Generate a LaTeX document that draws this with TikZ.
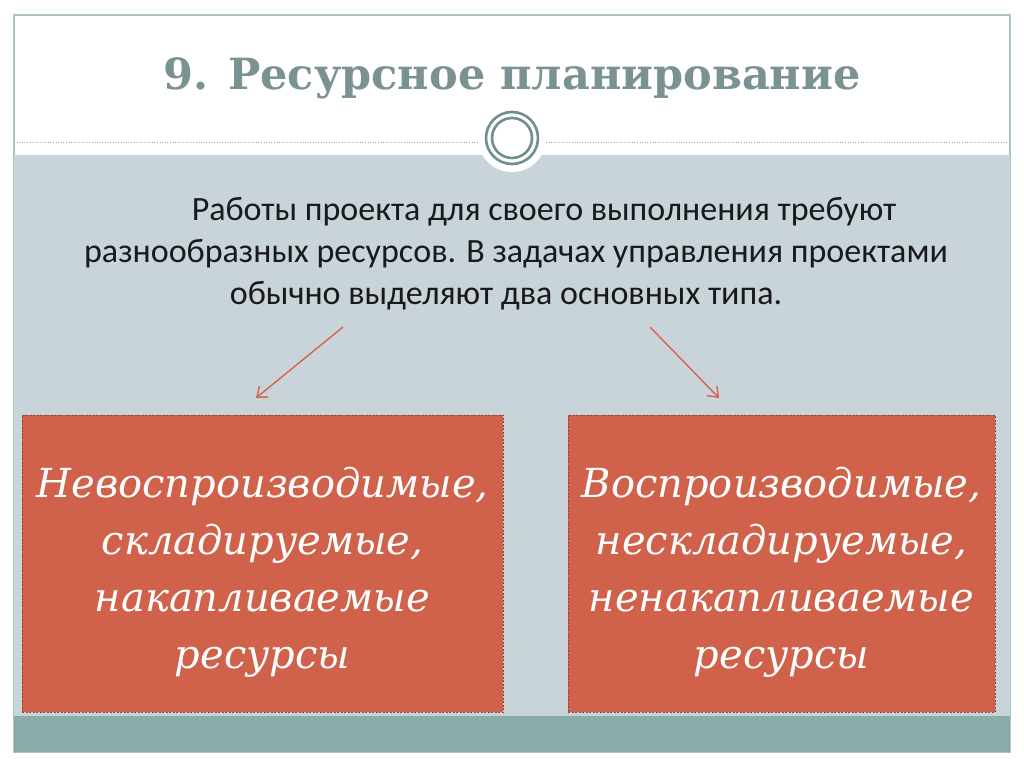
\documentclass[tikz,border=0pt]{standalone}
\usepackage{fontspec}
\setmainfont{Liberation Serif}
\newfontfamily\bodyfont{Carlito}
\newfontfamily\titlefont{DejaVu Serif}
\newfontfamily\boxfont{DejaVu Serif}
\usetikzlibrary{arrows.meta}
\definecolor{frame}{HTML}{AFC2C6}
\definecolor{band}{HTML}{C9D4DA}
\definecolor{teal}{HTML}{89ABAA}
\definecolor{titlec}{HTML}{7A9392}
\definecolor{ring}{HTML}{6F8F8F}
\definecolor{boxfill}{HTML}{D0614A}
\definecolor{boxline}{HTML}{9A3F30}
\definecolor{arrowc}{HTML}{D8614D}
\tikzset{
  resbox/.style={draw=boxline, dash pattern=on 2pt off 1.5pt, line width=1pt, fill=boxfill, inner sep=0pt},
  boxtext/.style={text=white, align=center, font=\boxfont\itshape\fontsize{40}{57}\selectfont},
  arr/.style={draw=arrowc, line width=1.4pt, -{Straight Barb[length=9pt,width=14pt]}}
}
\begin{document}
\begin{tikzpicture}[x=1pt,y=-1pt]
\useasboundingbox (0,0) rectangle (1024,767);
\fill[white] (0,0) rectangle (1024,767);
% frame
\draw[frame, line width=1.2pt] (14,15) rectangle (1010,752);
% gray band
\fill[band] (14,155) rectangle (1010,716);
% teal band
\fill[teal] (14,716) rectangle (1010,752);
% dotted line
\draw[gray!70, dotted, line width=0.6pt] (14,142) -- (478,142);
\draw[gray!70, dotted, line width=0.6pt] (546,142) -- (1010,142);
% circle ornament
\fill[white] (512,138) circle (34);
\draw[ring, line width=2.6pt] (512,138) circle (26);
\draw[ring, line width=2.6pt] (512,138) circle (20);
% title
\node[text=titlec, font=\titlefont\bfseries\fontsize{43}{50}\selectfont] (title) at (512,78) {9. Ресурсное планирование};
% body text
\node[font=\bodyfont\fontsize{34}{42}\selectfont, align=center, text=black!90] (intro) at (516,254)
 {\hspace*{56pt}Работы проекта для своего выполнения требуют\\
  разнообразных ресурсов. В задачах управления проектами\\
  \hspace*{-20pt}обычно выделяют два основных типа.};
% boxes
\node[resbox, minimum width=481pt, minimum height=297pt] (left) at (262.5,563.5) {};
\node[resbox, minimum width=427pt, minimum height=297pt] (right) at (781.5,563.5) {};
\node[boxtext] (lt) at ([yshift=-9pt]left.center) {Невоспроизводимые,\\складируемые,\\накапливаемые\\ресурсы};
\node[boxtext] (rt) at ([yshift=-9pt]right.center) {Воспроизводимые,\\нескладируемые,\\ненакапливаемые\\ресурсы};
% arrows
\coordinate (a1) at (343,327);
\coordinate (a2) at (650,327);
\draw[arr] (a1) -- (256,398);
\draw[arr] (a2) -- (719,398);
\end{tikzpicture}
\end{document}
